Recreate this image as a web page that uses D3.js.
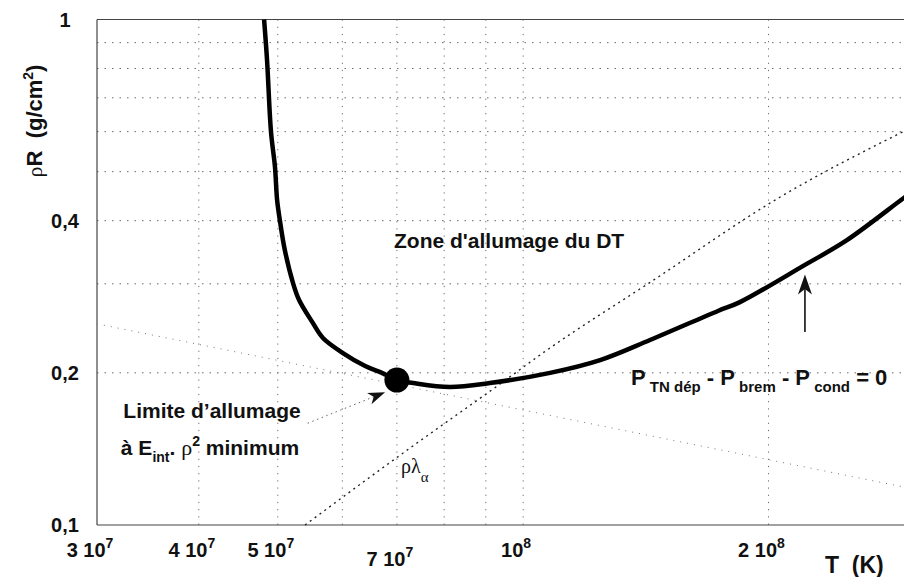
<!DOCTYPE html>
<html>
<head>
<meta charset="utf-8">
<script src="https://cdn.jsdelivr.net/npm/d3@7"></script>
<style>
  body { margin: 0; background: #fff; }
  svg { display: block; }
  .bold { font-family: "Liberation Sans", Arial, sans-serif; font-weight: bold; fill: #111; }
  .greek { font-family: "Liberation Serif", "DejaVu Serif", serif; font-weight: normal; fill: #111; }
</style>
</head>
<body>
<svg id="chart" width="904" height="577"></svg>
<script>
// Ignition boundary P_TN dép - P_brem - P_cond = 0 (T in K, ρR in g/cm²)
const ignitionT = [4.81e7, 4.85e7, 4.905e7, 4.96e7, 4.99e7, 5.03e7, 5.10e7, 5.22e7, 5.31e7, 5.51e7,
                   5.68e7, 6.01e7, 6.40e7, 6.71e7, 7.0e7, 7.33e7, 8.13e7, 9.10e7, 1.079e8, 1.243e8,
                   1.431e8, 1.734e8, 1.845e8, 2.217e8, 2.496e8, 2.934e8, 3.0e8];
const ignitionRhoR = [1.0, 0.832, 0.599, 0.511, 0.4395, 0.40, 0.35, 0.301, 0.2787, 0.2522,
                      0.2344, 0.2189, 0.2063, 0.200, 0.1935, 0.1909, 0.1875, 0.1909, 0.200, 0.212,
                      0.2323, 0.2651, 0.276, 0.327, 0.366, 0.444, 0.455];

// Alpha-particle range ρλα
const alphaT = [5.40e7, 7.0e7, 9.45e7, 1.07e8, 1.427e8, 2.06e8, 3.0e8];
const alphaRhoR = [0.1, 0.136, 0.192, 0.2219, 0.301, 0.444, 0.612];

// Faint descending reference line
const refT = [3e7, 3e8];
const refRhoR = [0.25, 0.118];

// Minimum of E_int·ρ² on the boundary
const minT = 7.0e7;
const minRhoR = 0.1935;

// Axes
const xTicks = [3e7, 4e7, 5e7, 7e7, 1e8, 2e8];
const xTickBase = ["3 10", "4 10", "5 10", "7 10", "10", "2 10"];
const xTickExp = ["7", "7", "7", "7", "8", "8"];
const xGrid = [4e7, 5e7, 6e7, 7e7, 8e7, 9e7, 1e8, 2e8];
const yTicks = [0.1, 0.2, 0.4, 1];
const yTickLabels = ["0,1", "0,2", "0,4", "1"];
const yGrid = [0.2, 0.3, 0.4, 0.5, 0.6, 0.7, 0.8, 0.9];

// Arrows: [tail, tip] in data coordinates
const boundaryArrow = [[2.217e8, 0.241], [2.217e8, 0.313]];
const minimumArrow = [[5.44e7, 0.159], [6.77e7, 0.183]];

const svg = d3.select("#chart");
const x = d3.scaleLog().domain([3e7, 3e8]).range([97, 912]);
const y = d3.scaleLog().domain([0.1, 1]).range([525, 19.5]);
const [x0, x1] = x.range();
const [y0, y1] = y.range();

// Dotted grid
const grid = svg.append("g");
grid.selectAll("line.v").data(xGrid).join("line")
  .attr("x1", d => x(d)).attr("x2", d => x(d))
  .attr("y1", y1).attr("y2", y0)
  .attr("stroke", "#6a6a6a").attr("stroke-width", 1)
  .attr("stroke-dasharray", "1.2,6");
grid.selectAll("line.h").data(yGrid).join("line")
  .attr("y1", d => y(d)).attr("y2", d => y(d))
  .attr("x1", x0).attr("x2", x1)
  .attr("stroke", "#6a6a6a").attr("stroke-width", 1)
  .attr("stroke-dasharray", "1.5,6");

// Frame lines (bottom, left, top)
const frame = svg.append("g").attr("stroke", "#444").attr("stroke-width", 1.2);
frame.append("line").attr("x1", x0).attr("x2", x1).attr("y1", y0).attr("y2", y0);
frame.append("line").attr("x1", x0).attr("x2", x1).attr("y1", y1).attr("y2", y1);
frame.append("line").attr("x1", x0).attr("x2", x0).attr("y1", y1).attr("y2", y0);

// Faint reference line
svg.append("path")
  .datum(d3.zip(refT, refRhoR))
  .attr("d", d3.line().x(d => x(d[0])).y(d => y(d[1])))
  .attr("fill", "none").attr("stroke", "#777").attr("stroke-width", 1)
  .attr("stroke-dasharray", "1,6");

// ρλα line
svg.append("path")
  .datum(d3.zip(alphaT, alphaRhoR))
  .attr("d", d3.line().x(d => x(d[0])).y(d => y(d[1])).curve(d3.curveMonotoneX))
  .attr("fill", "none").attr("stroke", "#222").attr("stroke-width", 1.4)
  .attr("stroke-dasharray", "2,4");

// Ignition boundary
svg.append("path")
  .datum(d3.zip(ignitionT, ignitionRhoR))
  .attr("d", d3.line().x(d => x(d[0])).y(d => y(d[1])).curve(d3.curveCatmullRom.alpha(0.5)))
  .attr("fill", "none").attr("stroke", "#000").attr("stroke-width", 4.5)
  .attr("stroke-linejoin", "round");

// Minimum point
svg.append("circle")
  .attr("cx", x(minT)).attr("cy", y(minRhoR)).attr("r", 12.5)
  .attr("fill", "#000");

// Arrow helper
function arrowHead(tail, tip, len, half) {
  const tx = x(tail[0]), ty = y(tail[1]);
  const px = x(tip[0]), py = y(tip[1]);
  const L = Math.hypot(px - tx, py - ty);
  const ux = (px - tx) / L, uy = (py - ty) / L;
  const bx = px - ux * len, by = py - uy * len;
  const nx = px - ux * len * 0.72, ny = py - uy * len * 0.72;
  return {
    shaftEnd: [nx, ny], start: [tx, ty],
    d: `M${px},${py}L${bx - uy * half},${by + ux * half}L${nx},${ny}L${bx + uy * half},${by - ux * half}Z`
  };
}

const a1 = arrowHead(boundaryArrow[0], boundaryArrow[1], 20, 7);
svg.append("line")
  .attr("x1", a1.start[0]).attr("y1", a1.start[1])
  .attr("x2", a1.shaftEnd[0]).attr("y2", a1.shaftEnd[1])
  .attr("stroke", "#111").attr("stroke-width", 1.6);
svg.append("path").attr("d", a1.d).attr("fill", "#111");

const a2 = arrowHead(minimumArrow[0], minimumArrow[1], 17, 6);
svg.append("line")
  .attr("x1", a2.start[0]).attr("y1", a2.start[1])
  .attr("x2", a2.shaftEnd[0]).attr("y2", a2.shaftEnd[1])
  .attr("stroke", "#666").attr("stroke-width", 1)
  .attr("stroke-dasharray", "1.5,3.5");
svg.append("path").attr("d", a2.d).attr("fill", "#111");

// Y tick labels
svg.append("g").selectAll("text").data(yTicks).join("text")
  .attr("class", "bold")
  .attr("x", 65).attr("y", d => y(d))
  .attr("dy", "0.35em")
  .attr("text-anchor", "middle")
  .attr("font-size", 20)
  .text((d, i) => yTickLabels[i]);

// X tick labels with exponents
const xl = svg.append("g").selectAll("text").data(xTicks).join("text")
  .attr("class", "bold")
  .attr("x", d => x(d) - 7)
  .attr("y", d => d === 7e7 ? 566 : 557)
  .attr("text-anchor", "middle")
  .attr("font-size", 20);
xl.append("tspan").text((d, i) => xTickBase[i]);
xl.append("tspan").attr("font-size", 14).attr("dy", -9).text((d, i) => xTickExp[i]);

// Axis titles
svg.append("text").attr("class", "bold")
  .attr("x", 825).attr("y", 573).attr("font-size", 23)
  .attr("xml:space", "preserve")
  .text("T  (K)");

const yt = svg.append("text")
  .attr("transform", "translate(42,121) rotate(-90)")
  .attr("text-anchor", "middle").attr("font-size", 22);
yt.append("tspan").attr("class", "greek").text("ρ");
yt.append("tspan").attr("class", "bold").attr("xml:space", "preserve").text("R  (g/cm");
yt.append("tspan").attr("class", "bold").attr("font-size", 14).attr("dy", -9).text("2");
yt.append("tspan").attr("class", "bold").attr("dy", 9).text(")");

// Annotations
svg.append("text").attr("class", "bold")
  .attr("x", 394).attr("y", 248).attr("font-size", 21)
  .text("Zone d'allumage du DT");

svg.append("text").attr("class", "bold")
  .attr("x", 212).attr("y", 418).attr("text-anchor", "middle").attr("font-size", 21)
  .text("Limite d’allumage");

const t2 = svg.append("text")
  .attr("x", 210).attr("y", 455).attr("text-anchor", "middle").attr("font-size", 21);
t2.append("tspan").attr("class", "bold").text("à E");
t2.append("tspan").attr("class", "bold").attr("font-size", 14).attr("dy", 7).text("int");
t2.append("tspan").attr("class", "bold").attr("dy", -7).text(". ");
t2.append("tspan").attr("class", "greek").attr("font-size", 22).text("ρ");
t2.append("tspan").attr("class", "bold").attr("font-size", 14).attr("dy", -9).text("2");
t2.append("tspan").attr("class", "bold").attr("dy", 9).attr("xml:space", "preserve").text(" minimum");

const t3 = svg.append("text").attr("x", 401).attr("y", 473).attr("font-size", 20);
t3.append("tspan").attr("class", "greek").text("ρλ");
t3.append("tspan").attr("class", "greek").attr("font-size", 15).attr("dy", 9).text("α");

const t4 = svg.append("text").attr("x", 631).attr("y", 385).attr("font-size", 22)
  .attr("xml:space", "preserve");
t4.append("tspan").attr("class", "bold").text("P");
t4.append("tspan").attr("class", "bold").attr("font-size", 15).attr("dy", 7).text(" TN dép");
t4.append("tspan").attr("class", "bold").attr("dy", -7).text(" - P");
t4.append("tspan").attr("class", "bold").attr("font-size", 15).attr("dy", 7).text(" brem");
t4.append("tspan").attr("class", "bold").attr("dy", -7).text(" - P");
t4.append("tspan").attr("class", "bold").attr("font-size", 15).attr("dy", 7).text(" cond");
t4.append("tspan").attr("class", "bold").attr("dy", -7).text(" = 0");
</script>
</body>
</html>
